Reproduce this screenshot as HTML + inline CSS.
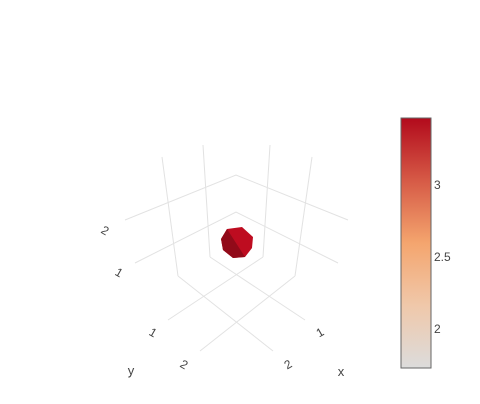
<!DOCTYPE html>
<html><head><meta charset="utf-8"><style>
body{margin:0;background:#fff;}
svg{display:block;font-family:"Liberation Sans",sans-serif;}
</style></head><body>
<svg id="chart" width="480" height="404">
<defs>
<linearGradient id="cg" x1="0" y1="1" x2="0" y2="0">
<stop offset="0" stop-color="rgb(220,220,220)"/>
<stop offset="0.25" stop-color="rgb(240,200,170)"/>
<stop offset="0.5" stop-color="rgb(244,165,110)"/>
<stop offset="0.75" stop-color="rgb(214,90,70)"/>
<stop offset="1" stop-color="rgb(178,10,28)"/>
</linearGradient>
</defs>
<g stroke="#e2e2e2" stroke-width="1" fill="none">
<path d="M125,220L236,175L348,220"/>
<path d="M135,263L236,212L338,263"/>
<path d="M162,157L178,276"/>
<path d="M312,157L295,276"/>
<path d="M203,145L210,257"/>
<path d="M270,145L263,257"/>
<path d="M178,276L273,351"/>
<path d="M295,276L200,351"/>
<path d="M168,320L263,257"/>
<path d="M305,320L210,257"/>
</g>
<g>
<polygon points="221,239 227,229 242,227 253,237 252,248 245,257 233,258 223,250" fill="rgb(190,12,32)"/>
<polygon points="221,239 227,229 245,257 233,258 223,250" fill="rgb(145,10,25)"/>
</g>
<g fill="#444" font-size="12">
<text transform="translate(103,234) rotate(30)" text-anchor="middle">2</text>
<text transform="translate(117,276) rotate(30)" text-anchor="middle">1</text>
<text transform="translate(151,336) rotate(30)" text-anchor="middle">1</text>
<text transform="translate(182,368) rotate(30)" text-anchor="middle">2</text>
<text transform="translate(322,336) rotate(-30)" text-anchor="middle">1</text>
<text transform="translate(290,368) rotate(-30)" text-anchor="middle">2</text>
<text x="131" y="375" text-anchor="middle" font-size="13">y</text>
<text x="341" y="376" text-anchor="middle" font-size="13">x</text>
</g>
<g id="cbar">
<rect x="401" y="118" width="30" height="250" fill="url(#cg)" stroke="#666" stroke-width="1"/>
</g>
</svg>
<script>
const cbMin = 1.73;
const cbMax = 3.465;
const cbTicks = [2, 2.5, 3];
const cbTickLabels = ["2", "2.5", "3"];
const cbTop = 118, cbH = 250;
function cbY(v) { return cbTop + cbH - (v - cbMin) / (cbMax - cbMin) * cbH; }
const cbG = document.getElementById('cbar');
cbTicks.forEach(function (t, i) {
  const el = document.createElementNS('http://www.w3.org/2000/svg', 'text');
  
  
  el.setAttribute('x', 434);
  el.setAttribute('y', cbY(t) + 4);
  el.setAttribute('font-size', '12');
  el.setAttribute('fill', '#444');
  el.textContent = cbTickLabels[i];
  cbG.appendChild(el);
});
</script>
</body></html>
